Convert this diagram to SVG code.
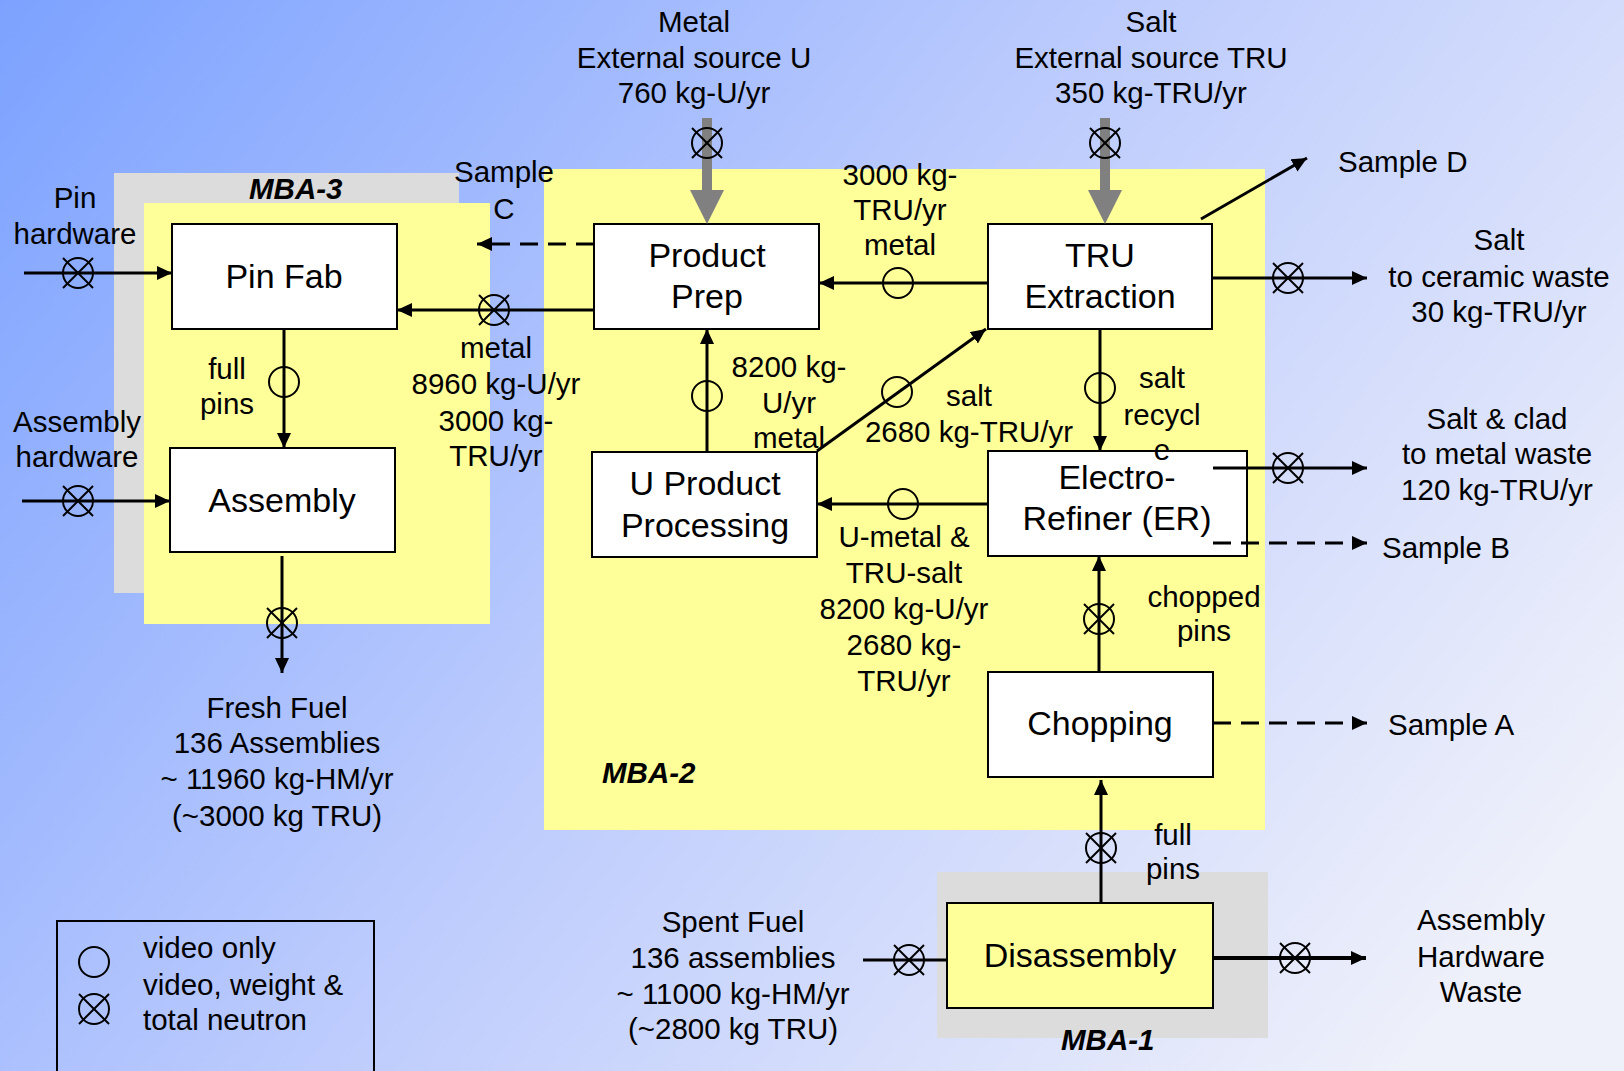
<svg xmlns="http://www.w3.org/2000/svg" width="1624" height="1071" viewBox="0 0 1624 1071">
<defs>
<linearGradient id="bg" gradientUnits="userSpaceOnUse" x1="0" y1="0" x2="1400" y2="1071">
<stop offset="0" stop-color="#7CA2FF"/>
<stop offset="0.5" stop-color="#BCCBFD"/>
<stop offset="1" stop-color="#EEF0FA"/>
</linearGradient>
<marker id="ah" viewBox="0 0 15 14" refX="15" refY="7" markerWidth="15" markerHeight="14" markerUnits="userSpaceOnUse" orient="auto">
<path d="M0,0 L15,7 L0,14 z" fill="#000"/>
</marker>
<g id="xc" fill="none" stroke="#000" stroke-width="2">
<circle r="15"/>
<line x1="-15" y1="-15" x2="15" y2="15"/>
<line x1="-15" y1="15" x2="15" y2="-15"/>
</g>
<g id="vc" fill="none" stroke="#000" stroke-width="2">
<circle r="15"/>
</g>
</defs>
<style>
text{font-family:"Liberation Sans",Arial,sans-serif;fill:#000}
.lb{font-size:29.5px;text-anchor:middle}
.ls{font-size:29.5px}
.bx{font-size:34px;text-anchor:middle}
.mba{font-size:29.5px;font-weight:bold;font-style:italic}
.node rect{fill:#fff;stroke:#000;stroke-width:2}
.cn{stroke:#000;stroke-width:3;fill:none}
.ar{marker-end:url(#ah)}
.dash{stroke-dasharray:18 10}
</style>
<rect width="1624" height="1071" fill="url(#bg)"/>

<g id="regions">
<rect id="mba3-gray" x="114" y="173" width="345" height="420" fill="#DCDCDC"/>
<rect id="mba3" x="144" y="203" width="346" height="421" fill="#FFFF99"/>
<rect id="mba2" x="544" y="169" width="721" height="661" fill="#FFFF99"/>
<rect id="mba1" x="937" y="872" width="331" height="166" fill="#DCDCDC"/>
<text class="mba" x="249" y="199">MBA-3</text>
<text class="mba" x="602" y="783">MBA-2</text>
<text class="mba" x="1061" y="1050">MBA-1</text>
</g>

<g id="pinfab" class="node"><rect x="172" y="224" width="225" height="105"/><text class="bx" x="284" y="288">Pin Fab</text></g>
<g id="assembly" class="node"><rect x="170" y="448" width="225" height="104"/><text class="bx" x="282" y="512">Assembly</text></g>
<g id="productprep" class="node"><rect x="594" y="224" width="225" height="105"/><text class="bx" x="707" y="267">Product</text><text class="bx" x="707" y="308">Prep</text></g>
<g id="truextraction" class="node"><rect x="988" y="224" width="224" height="105"/><text class="bx" x="1100" y="267">TRU</text><text class="bx" x="1100" y="308">Extraction</text></g>
<g id="uproduct" class="node"><rect x="592" y="452" width="225" height="105"/><text class="bx" x="705" y="495">U Product</text><text class="bx" x="705" y="537">Processing</text></g>
<g id="electrorefiner" class="node"><rect x="988" y="451" width="259" height="105"/><text class="bx" x="1117" y="489">Electro-</text><text class="bx" x="1117" y="530">Refiner (ER)</text></g>
<g id="chopping" class="node"><rect x="988" y="672" width="225" height="105"/><text class="bx" x="1100" y="735">Chopping</text></g>
<g id="disassembly" class="node"><rect x="947" y="903" width="266" height="105" style="fill:#FFFF99"/><text class="bx" x="1080" y="967">Disassembly</text></g>

<g id="connectors">
<!-- gray source arrows -->
<polygon points="702,118 712,118 712,190 724,190 707,224 690,190 702,190" fill="#808080"/>
<polygon points="1100,118 1110,118 1110,190 1122,190 1105,224 1088,190 1100,190" fill="#808080"/>
<use href="#xc" x="707" y="143"/>
<use href="#xc" x="1105" y="143"/>

<line class="cn ar" x1="24" y1="273" x2="172" y2="273"/>
<use href="#xc" x="78" y="273"/>
<line class="cn ar" x1="594" y1="310" x2="397" y2="310"/>
<use href="#xc" x="494" y="310"/>
<line class="cn ar dash" x1="594" y1="244" x2="477" y2="244"/>
<line class="cn ar" x1="284" y1="329" x2="284" y2="448"/>
<use href="#vc" x="284" y="382"/>
<line class="cn ar" x1="22" y1="501" x2="170" y2="501"/>
<use href="#xc" x="78" y="501"/>
<line class="cn ar" x1="282" y1="556" x2="282" y2="673"/>
<use href="#xc" x="282" y="623"/>

<line class="cn ar" x1="988" y1="283" x2="819" y2="283"/>
<use href="#vc" x="898" y="283"/>
<line class="cn ar" x1="1201" y1="219" x2="1307" y2="158"/>
<line class="cn ar" x1="1212" y1="278" x2="1367" y2="278"/>
<use href="#xc" x="1288" y="278"/>
<line class="cn ar" x1="1100" y1="329" x2="1100" y2="451"/>
<use href="#vc" x="1100" y="388"/>

<line class="cn ar" x1="707" y1="452" x2="707" y2="329"/>
<use href="#vc" x="707" y="396"/>
<line class="cn ar" x1="817" y1="451" x2="986" y2="329"/>
<use href="#vc" x="897" y="392"/>
<line class="cn ar" x1="988" y1="504" x2="817" y2="504"/>
<use href="#vc" x="903" y="504"/>

<line class="cn ar" x1="1099" y1="672" x2="1099" y2="556"/>
<use href="#xc" x="1099" y="619"/>
<line class="cn ar" x1="1213" y1="468" x2="1367" y2="468"/>
<use href="#xc" x="1288" y="468"/>
<line class="cn ar dash" x1="1213" y1="543" x2="1367" y2="543"/>
<line class="cn ar dash" x1="1213" y1="723" x2="1367" y2="723"/>

<line class="cn ar" x1="1101" y1="903" x2="1101" y2="780"/>
<use href="#xc" x="1101" y="848"/>
<line class="cn" x1="863" y1="960" x2="947" y2="960"/>
<use href="#xc" x="909" y="960"/>
<line class="cn ar" x1="1213" y1="958" x2="1366" y2="958" style="stroke-width:4"/>
<use href="#xc" x="1295" y="958"/>
</g>

<g id="labels">
<text class="lb" x="694" y="32">Metal</text>
<text class="lb" x="694" y="68">External source U</text>
<text class="lb" x="694" y="103">760 kg-U/yr</text>
<text class="lb" x="1151" y="32">Salt</text>
<text class="lb" x="1151" y="68">External source TRU</text>
<text class="lb" x="1151" y="103">350 kg-TRU/yr</text>
<text class="lb" x="504" y="182">Sample</text>
<text class="lb" x="504" y="219">C</text>
<text class="lb" x="75" y="208">Pin</text>
<text class="lb" x="75" y="244">hardware</text>
<text class="lb" x="77" y="432">Assembly</text>
<text class="lb" x="77" y="467">hardware</text>
<text class="lb" x="227" y="379">full</text>
<text class="lb" x="227" y="414">pins</text>
<text class="lb" x="496" y="358">metal</text>
<text class="lb" x="496" y="394">8960 kg-U/yr</text>
<text class="lb" x="496" y="431">3000 kg-</text>
<text class="lb" x="496" y="466">TRU/yr</text>
<text class="lb" x="900" y="185">3000 kg-</text>
<text class="lb" x="900" y="220">TRU/yr</text>
<text class="lb" x="900" y="255">metal</text>
<text class="lb" x="789" y="377">8200 kg-</text>
<text class="lb" x="789" y="413">U/yr</text>
<text class="lb" x="789" y="448">metal</text>
<text class="lb" x="969" y="406">salt</text>
<text class="lb" x="969" y="442">2680 kg-TRU/yr</text>
<text class="lb" x="1162" y="388">salt</text>
<text class="lb" x="1162" y="425">recycl</text>
<text class="lb" x="1162" y="460">e</text>
<text class="lb" x="904" y="547">U-metal &amp;</text>
<text class="lb" x="904" y="583">TRU-salt</text>
<text class="lb" x="904" y="619">8200 kg-U/yr</text>
<text class="lb" x="904" y="655">2680 kg-</text>
<text class="lb" x="904" y="691">TRU/yr</text>
<text class="lb" x="1204" y="607">chopped</text>
<text class="lb" x="1204" y="641">pins</text>
<text class="ls" x="1338" y="172">Sample D</text>
<text class="lb" x="1499" y="250">Salt</text>
<text class="lb" x="1499" y="287">to ceramic waste</text>
<text class="lb" x="1499" y="322">30 kg-TRU/yr</text>
<text class="lb" x="1497" y="429">Salt &amp; clad</text>
<text class="lb" x="1497" y="464">to metal waste</text>
<text class="lb" x="1497" y="500">120 kg-TRU/yr</text>
<text class="ls" x="1382" y="558">Sample B</text>
<text class="ls" x="1388" y="735">Sample A</text>
<text class="lb" x="1173" y="845">full</text>
<text class="lb" x="1173" y="879">pins</text>
<text class="lb" x="733" y="932">Spent Fuel</text>
<text class="lb" x="733" y="968">136 assemblies</text>
<text class="lb" x="733" y="1004">~ 11000 kg-HM/yr</text>
<text class="lb" x="733" y="1039">(~2800 kg TRU)</text>
<text class="lb" x="1481" y="930">Assembly</text>
<text class="lb" x="1481" y="967">Hardware</text>
<text class="lb" x="1481" y="1002">Waste</text>
<text class="lb" x="277" y="718">Fresh Fuel</text>
<text class="lb" x="277" y="753">136 Assemblies</text>
<text class="lb" x="277" y="789">~ 11960 kg-HM/yr</text>
<text class="lb" x="277" y="826">(~3000 kg TRU)</text>
</g>

<g id="legend">
<rect x="57" y="921" width="317" height="170" fill="none" stroke="#000" stroke-width="2"/>
<use href="#vc" x="94" y="962"/>
<use href="#xc" x="94" y="1009"/>
<text class="ls" x="143" y="958">video only</text>
<text class="ls" x="143" y="995">video, weight &amp;</text>
<text class="ls" x="143" y="1030">total neutron</text>
</g>
</svg>
